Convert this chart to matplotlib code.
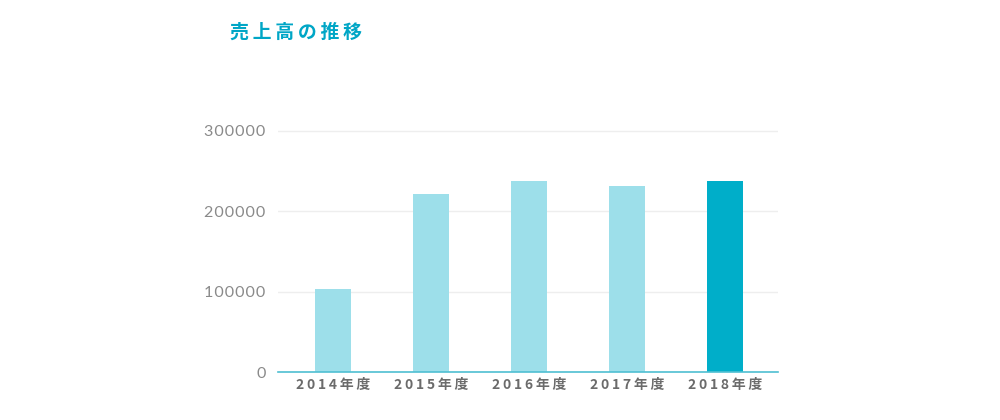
import matplotlib
matplotlib.use("Agg")
import matplotlib.pyplot as plt
from matplotlib.ticker import FuncFormatter, FixedLocator

title = "売上高の推移"
categories = ["2014年度", "2015年度", "2016年度", "2017年度", "2018年度"]
sales = [104000, 222000, 238000, 231000, 238000]
yticks = [0, 100000, 200000, 300000]
highlight_index = 4

LIGHT = "#9ddfea"
DARK = "#00aec9"
TITLE_C = "#00a6c6"

def spaced(s, sp="\u2009"):
    return sp.join(list(s))

fig = plt.figure(figsize=(10, 4.2), dpi=100)
ax = fig.add_axes([0.278, 0.1136, 0.5, 0.5943])

colors = [DARK if i == highlight_index else LIGHT for i in range(len(categories))]
x = list(range(len(categories)))
ax.bar(x, sales, width=0.367, color=colors, zorder=2)

ax.set_xlim(-0.56, 4.54)
ax.set_ylim(0, 310000)
ax.yaxis.set_major_locator(FixedLocator(yticks))
ax.yaxis.set_major_formatter(FuncFormatter(lambda v, p: spaced(str(int(v)), "\u200a")))
ax.grid(axis="y", color="#eeeeee", linewidth=1.0, zorder=0)
ax.set_axisbelow(True)

ax.set_xticks(x)
ax.set_xticklabels([spaced(c) for c in categories],
                   family=["Noto Sans CJK JP", "DejaVu Sans"],
                   fontsize=10, fontweight="bold", color="#6b6b6b")
for lbl in ax.get_yticklabels():
    lbl.set_family(["Lato", "DejaVu Sans"])
    lbl.set_fontsize(11.6)
    lbl.set_color("#8a8a8a")

ax.tick_params(axis="both", length=0)
ax.tick_params(axis="y", pad=9)
ax.tick_params(axis="x", pad=4)

for s in ["top", "right", "left"]:
    ax.spines[s].set_visible(False)
ax.spines["bottom"].set_color("#4fbfd2")
ax.spines["bottom"].set_linewidth(1.2)

fig.text(0.230, 0.924, spaced(title), family=["Noto Sans CJK JP", "DejaVu Sans"],
         fontsize=13.6, fontweight="bold", color=TITLE_C, ha="left", va="center")

fig.savefig("out.png", dpi=100, facecolor="white")
